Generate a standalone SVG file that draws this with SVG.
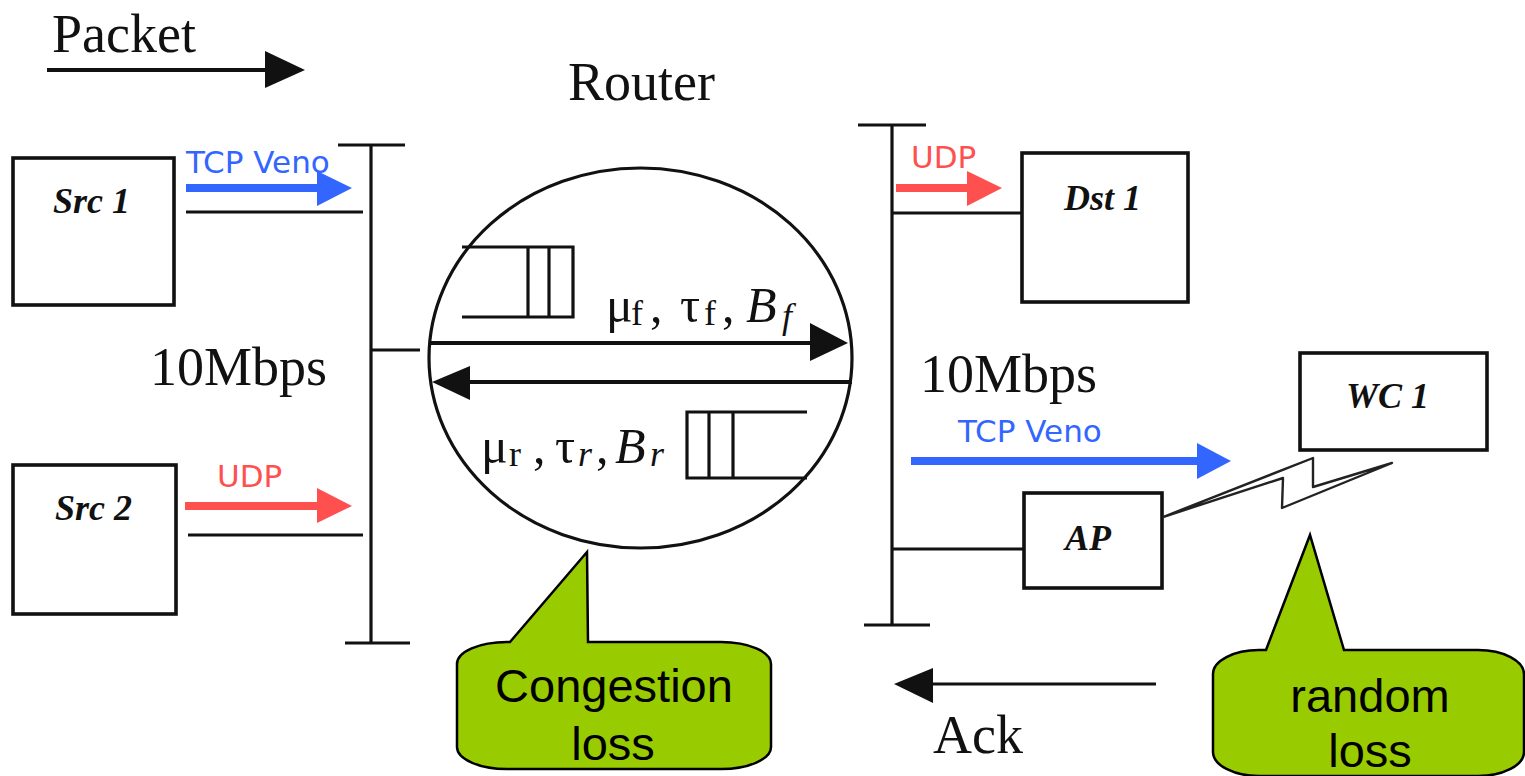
<svg xmlns="http://www.w3.org/2000/svg" width="1525" height="776" viewBox="0 0 1525 776">
<style>
.bg{fill:#fff}
.box{fill:#fff;stroke:#111;stroke-width:3.6}
.ln{stroke:#111;stroke-width:3.2;fill:none}
.thk{stroke:#111;stroke-width:4;fill:none}
.head{fill:#111}
.serif{font-family:"Liberation Serif","Times New Roman",serif;fill:#111}
.big{font-size:54px}
.name{font-family:"Liberation Serif","Times New Roman",serif;font-weight:bold;font-style:italic;font-size:36px;fill:#111}
.proto{font-family:"DejaVu Sans",Verdana,sans-serif;font-size:31px}
.blue{fill:#3366FF}
.blues{stroke:#3366FF;stroke-width:8}
.red{fill:#FF5050}
.reds{stroke:#FF5050;stroke-width:8}
.callout{fill:#99CC00;stroke:#000;stroke-width:2.5}
.ctext{font-family:"Liberation Sans",Arial,sans-serif;font-size:47px;fill:#000;text-anchor:middle}
.math{font-family:"Liberation Serif","Times New Roman",serif;fill:#111;font-size:50px}
.sub{font-size:36px}
</style>
<rect class="bg" x="0" y="0" width="1525" height="776"/>

<g id="legend-packet">
<text class="serif big" x="52" y="52">Packet</text>
</g>
<g id="router-label">
<text class="serif big" x="568" y="100">Router</text>
</g>

<g id="src1">
<rect class="box" x="13" y="158" width="161" height="147"/>
<text class="name" x="53" y="213">Src 1</text>
</g>
<g id="src2">
<rect class="box" x="13" y="465" width="163" height="149"/>
<text class="name" x="55" y="520">Src 2</text>
</g>
<g id="dst1">
<rect class="box" x="1022" y="153" width="166" height="149"/>
<text class="name" x="1064" y="210">Dst 1</text>
</g>
<g id="wc1">
<rect class="box" x="1300" y="353" width="187" height="97"/>
<text class="name" x="1346" y="408">WC 1</text>
</g>
<g id="ap">
<rect class="box" x="1024" y="493" width="138" height="95"/>
<text class="name" x="1065" y="550">AP</text>
</g>

<g id="left-bus">
<line class="ln" x1="371" y1="145" x2="371" y2="643"/>
<line class="ln" x1="338" y1="145" x2="405" y2="145"/>
<line class="ln" x1="345" y1="643" x2="410" y2="643"/>
<text class="serif big" x="150" y="385">10Mbps</text>
</g>
<g id="right-bus">
<line class="ln" x1="892" y1="125" x2="892" y2="625"/>
<line class="ln" x1="858" y1="125" x2="926" y2="125"/>
<line class="ln" x1="864" y1="625" x2="930" y2="625"/>
<text class="serif big" x="920" y="392">10Mbps</text>
</g>

<g id="router">
<ellipse class="ln" cx="640.5" cy="358" rx="211.5" ry="190"/>
<polyline class="ln" points="462,247 573,247 573,317 462,317"/>
<line class="ln" x1="528" y1="247" x2="528" y2="317"/>
<line class="ln" x1="549" y1="247" x2="549" y2="317"/>
<polyline class="ln" points="807,412 687,412 687,478 807,478"/>
<line class="ln" x1="709" y1="412" x2="709" y2="478"/>
<line class="ln" x1="733" y1="412" x2="733" y2="478"/>
<text class="math" y="322"><tspan x="606">μ</tspan><tspan class="sub" x="631" dy="3">f</tspan><tspan x="650" dy="-3">,</tspan><tspan x="680">τ</tspan><tspan class="sub" x="704" dy="3">f</tspan><tspan x="722" dy="-3">,</tspan><tspan x="746" font-style="italic">B</tspan><tspan class="sub" x="782" dy="6" font-style="italic">f</tspan></text>
<text class="math" y="463"><tspan x="481">μ</tspan><tspan class="sub" x="509" dy="3">r</tspan><tspan x="533" dy="-3">,</tspan><tspan x="555">τ</tspan><tspan class="sub" x="578" dy="3" font-style="italic">r</tspan><tspan x="596" dy="-3">,</tspan><tspan x="615" font-style="italic">B</tspan><tspan class="sub" x="650" dy="3" font-style="italic">r</tspan></text>
</g>

<g id="connectors">
<line class="thk" x1="47" y1="70" x2="268" y2="70"/>
<polygon class="head" points="265,51 305,70 265,88"/>
<line class="ln" x1="186" y1="212" x2="363" y2="212"/>
<line class="ln" x1="188" y1="535" x2="363" y2="535"/>
<line class="ln" x1="371" y1="350" x2="420" y2="350"/>
<line class="ln" x1="892" y1="213" x2="1022" y2="213"/>
<line class="ln" x1="892" y1="549" x2="1024" y2="549"/>
<line class="thk" x1="429" y1="343" x2="812" y2="343"/>
<polygon class="head" points="810,323 848,343 810,361"/>
<line class="thk" x1="468" y1="382" x2="852" y2="382"/>
<polygon class="head" points="432,382 470,366 470,400"/>
<line class="ln" x1="933" y1="684" x2="1156" y2="684"/>
<polygon class="head" points="894,684 933,668 933,703"/>
<polygon fill="none" stroke="#222" stroke-width="2.4" stroke-linejoin="round" points="1163,517 1313,458 1313,487 1392,463 1282,508 1283,478"/>
<line class="blues" x1="186" y1="188" x2="319" y2="188"/>
<polygon class="blue" points="317,171 352,188 317,206"/>
<line class="reds" x1="185" y1="506" x2="319" y2="506"/>
<polygon class="red" points="317,488 352,506 317,523"/>
<line class="reds" x1="896" y1="188" x2="969" y2="188"/>
<polygon class="red" points="967,171 1002,188 967,206"/>
<line class="blues" x1="911" y1="461" x2="1199" y2="461"/>
<polygon class="blue" points="1197,443 1231,461 1197,479"/>
</g>

<g id="proto-labels">
<text class="proto blue" x="186" y="173">TCP Veno</text>
<text class="proto red" x="217" y="487">UDP</text>
<text class="proto red" x="911" y="168">UDP</text>
<text class="proto blue" x="958" y="442">TCP Veno</text>
</g>

<g id="ack-label">
<text class="serif big" x="933" y="753">Ack</text>
</g>

<g id="congestion-callout">
<path class="callout" d="M510,642 L587,552 L588,642 L721,642 A50,22 0 0 1 771,664 L771,747 A50,22 0 0 1 721,769 L507,769 A50,22 0 0 1 457,747 L457,664 A50,22 0 0 1 507,642 Z"/>
<text class="ctext" x="614" y="702">Congestion</text>
<text class="ctext" x="613" y="760">loss</text>
</g>

<g id="random-callout">
<path class="callout" d="M1266,650 L1310,535 L1344,650 L1478,650 A46,24 0 0 1 1524,674 L1524,752 A46,24 0 0 1 1478,776 L1259,776 A46,24 0 0 1 1213,752 L1213,674 A46,24 0 0 1 1259,650 Z"/>
<text class="ctext" x="1370" y="712">random</text>
<text class="ctext" x="1370" y="767">loss</text>
</g>
</svg>
